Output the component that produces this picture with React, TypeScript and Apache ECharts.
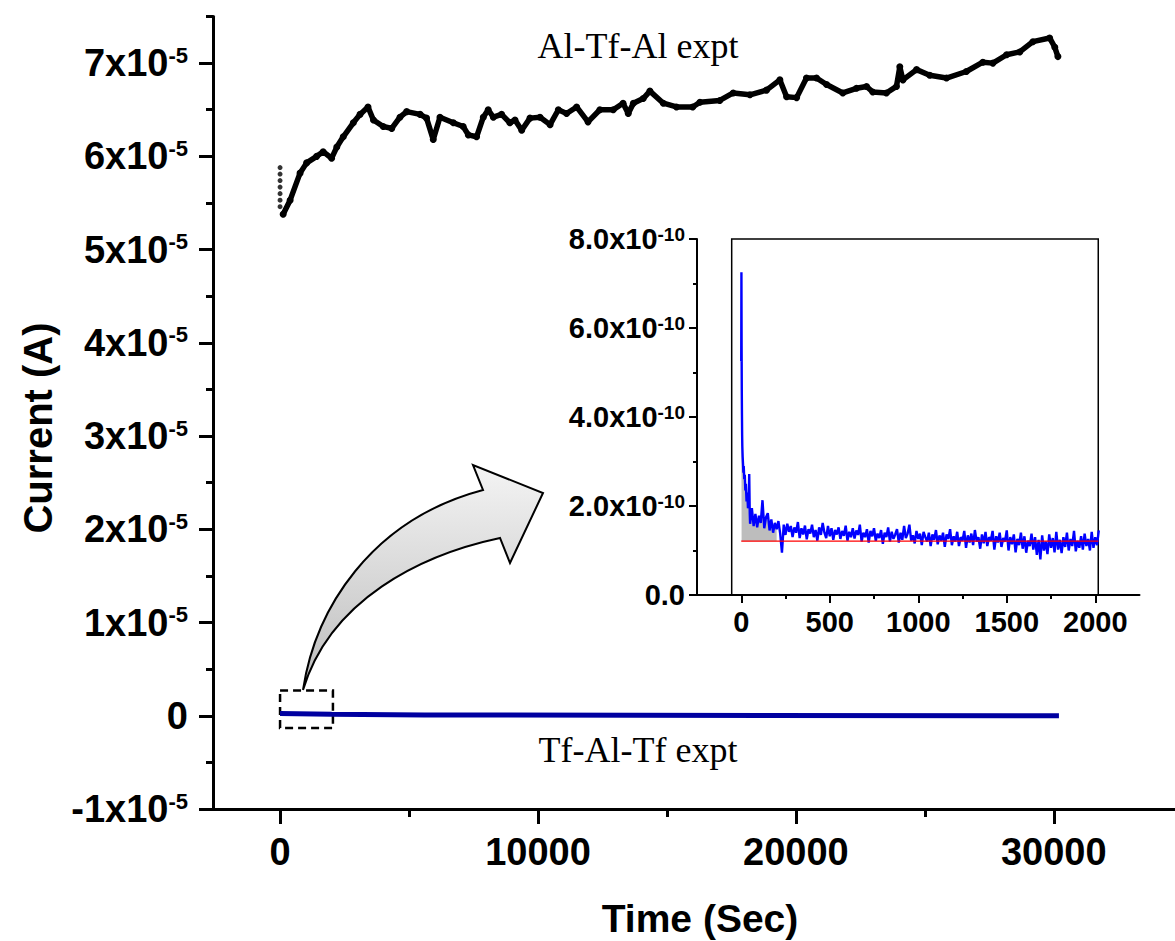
import React, { useEffect, useRef } from 'react';
import * as echarts from 'echarts';

// ---------- Main plot data (current in units of 1e-5 A, time in s) ----------
const alTfAlTime = [120, 390, 775, 1030, 1420, 1670, 2000, 2200, 2450, 2840, 3100, 3410, 3620, 4000, 4330, 4650, 4910, 5430, 5680, 5940, 6200, 6720, 7100, 7300, 7620, 7880, 8070, 8270, 8590, 8910, 9110, 9370, 9690, 10080, 10470, 10790, 11110, 11500, 11940, 12400, 12920, 13300, 13500, 13700, 14080, 14340, 14860, 15370, 16000, 16280, 17050, 17570, 18220, 18860, 19380, 19640, 20030, 20410, 20800, 21190, 21820, 22350, 22740, 22980, 23510, 23900, 24030, 24150, 24680, 25190, 25840, 26610, 27250, 27640, 28170, 28680, 29190, 29840, 30040, 30160];
const alTfAlCurrent = [5.38, 5.53, 5.82, 5.93, 6.0, 6.05, 5.98, 6.1, 6.21, 6.36, 6.45, 6.53, 6.39, 6.32, 6.30, 6.42, 6.48, 6.45, 6.41, 6.18, 6.42, 6.36, 6.32, 6.23, 6.21, 6.42, 6.50, 6.42, 6.45, 6.36, 6.39, 6.28, 6.41, 6.42, 6.34, 6.50, 6.46, 6.53, 6.37, 6.50, 6.50, 6.57, 6.46, 6.57, 6.62, 6.70, 6.57, 6.53, 6.53, 6.58, 6.60, 6.68, 6.66, 6.71, 6.82, 6.64, 6.63, 6.84, 6.84, 6.77, 6.68, 6.73, 6.75, 6.69, 6.68, 6.75, 6.96, 6.82, 6.93, 6.87, 6.84, 6.91, 7.01, 7.00, 7.09, 7.12, 7.23, 7.27, 7.17, 7.07];
// initial dotted drop at t = 0
const alTfAlStartCurrent = [5.88, 5.81, 5.74, 5.67, 5.60, 5.53, 5.46];

const tfAlTfTime = [0, 2000, 5600, 30200];
const tfAlTfCurrent = [0.025, 0.015, 0.008, 0.0];

const mainXTicks = [0, 10000, 20000, 30000];
const mainXMinor = [5000, 15000, 25000];
const mainYTicks = [-1, 0, 1, 2, 3, 4, 5, 6, 7];
const mainYMinor = [-0.5, 0.5, 1.5, 2.5, 3.5, 4.5, 5.5, 6.5, 7.5];

// ---------- Inset data (current in units of 1e-10 A, time in s) ----------
const insetEarlyTime = [0, 1, 2, 3, 4, 5, 6, 8, 10, 12, 14, 17, 20, 23, 26, 30, 34, 38, 42, 45, 48];
const insetEarlyCurrent = [5.25, 7.25, 5.6, 4.6, 4.05, 3.6, 3.35, 3.1, 2.95, 2.75, 2.9, 2.6, 2.7, 2.35, 2.5, 2.1, 2.3, 1.95, 2.05, 2.72, 1.85];
const insetSampleStart = 50;
const insetSampleStep = 10;
const insetSampledCurrent = [
  1.60, 1.95, 1.55, 1.82, 1.52, 1.78, 1.62, 2.13, 1.50, 1.75,
  1.84, 1.45, 1.70, 1.40, 1.62, 1.48, 1.66, 1.38, 0.95, 1.58,
  1.35, 1.60, 1.42, 1.55, 1.30, 1.52, 1.40, 1.64, 1.28, 1.50,
  1.36, 1.56, 1.25, 1.48, 1.38, 1.58, 1.30, 1.46, 1.22, 1.52,
  1.35, 1.62, 1.40, 1.28, 1.55, 1.32, 1.50, 1.24, 1.46, 1.36,
  1.52, 1.26, 1.44, 1.33, 1.56, 1.22, 1.42, 1.30, 1.50, 1.27,
  1.45, 1.35, 1.58, 1.20, 1.40, 1.30, 1.48, 1.18, 1.44, 1.32,
  1.50, 1.22, 1.38, 1.28, 1.46, 1.15, 1.40, 1.30, 1.52, 1.20,
  1.42, 1.26, 1.36, 1.48, 1.18, 1.40, 1.24, 1.55, 1.28, 1.38,
  1.58, 1.22, 1.34, 1.16, 1.44, 1.26, 1.38, 1.12, 1.42, 1.30,
  1.20, 1.40, 1.10, 1.36, 1.24, 1.46, 1.14, 1.34, 1.22, 1.40,
  1.08, 1.36, 1.26, 1.48, 1.12, 1.32, 1.20, 1.42, 1.10, 1.30,
  1.22, 1.44, 1.06, 1.34, 1.18, 1.38, 1.12, 1.46, 1.20, 1.30,
  1.04, 1.36, 1.16, 1.42, 1.10, 1.30, 1.22, 1.44, 1.02, 1.32,
  1.18, 1.40, 1.08, 1.28, 1.20, 1.45, 1.00, 1.30, 1.14, 1.36,
  0.96, 1.26, 1.12, 1.40, 1.04, 1.32, 0.95, 1.22, 1.10, 1.38,
  1.02, 1.30, 0.90, 1.24, 0.80, 1.34, 1.00, 1.20, 0.92, 1.36,
  1.06, 1.28, 0.96, 1.42, 1.02, 1.24, 0.94, 1.30, 1.08, 1.40,
  1.00, 1.26, 1.10, 1.44, 0.98, 1.22, 1.06, 1.32, 1.02, 1.38,
  1.10, 1.26, 1.00, 1.42, 1.06, 1.30, 1.12, 1.45,
];
const insetBaseline = 1.21;
const insetBaselineEnd = 2017;
const insetAreaEnd = 200;

const insetXTicks = [0, 500, 1000, 1500, 2000];
const insetXMinor = [250, 750, 1250, 1750];
const insetYTicks = [0, 2, 4, 6, 8];
const insetYMinor = [1, 3, 5, 7];

const ARROW_D =
  'M303 690 C315 610 370 520 483 490 L473 465 L543 493 L510 563 L500 538 C420 555 330 600 303 690 Z';
let arrowRegistered = false;
function ensureArrow() {
  if (!arrowRegistered) {
    echarts.graphic.registerShape('zoomArrow', echarts.graphic.extendPath(ARROW_D, {}) as any);
    arrowRegistered = true;
  }
}

const SANS = '"Liberation Sans", Arial, sans-serif';
const SERIF = '"Liberation Serif", "Times New Roman", serif';

export default function App() {
  const ref = useRef<HTMLDivElement>(null);

  useEffect(() => {
    if (!ref.current) return;
    ensureArrow();
    const chart = echarts.init(ref.current, null, { renderer: 'svg' });

    const alData = alTfAlTime.map((t, i) => [t, alTfAlCurrent[i]]);
    const alStart = alTfAlStartCurrent.map((v) => [0, v]);
    const tfData = tfAlTfTime.map((t, i) => [t, tfAlTfCurrent[i]]);
    const insetData: number[][] = insetEarlyTime.map((t, i) => [t, insetEarlyCurrent[i]]);
    insetSampledCurrent.forEach((v, i) => insetData.push([insetSampleStart + i * insetSampleStep, v]));
    const areaData = insetData.filter((p) => p[0] <= insetAreaEnd);

    const plainNumber = (v: number) => String(Math.round(v));
    const tickLabelMain = (v: number) => {
      const r = Math.round(v);
      return r === 0 ? '{m|0}' : `{m|${r}x10}{s|-5}`;
    };
    const tickLabelInset = (v: number) => {
      const r = Math.round(v);
      return r === 0 ? '{m|0.0}' : `{m|${r.toFixed(1)}x10}{s|-10}`;
    };

    const axisBase = (w: number) => ({
      type: 'value' as const,
      axisLine: { show: true, onZero: false, lineStyle: { color: '#000', width: w } },
      splitLine: { show: false },
    });

    const option: any = {
      animation: false,
      backgroundColor: '#fff',
      grid: [
        { left: 213, top: 16.5, width: 962, height: 792.5 },
        { left: 697, top: 239, width: 442.5, height: 356 },
      ],
      xAxis: [
        {
          ...axisBase(3),
          gridIndex: 0,
          position: 'bottom',
          min: -2600,
          max: 34700,
          axisTick: { show: true, customValues: mainXTicks, length: 15, lineStyle: { color: '#000', width: 3 } },
          axisLabel: {
            customValues: mainXTicks,
            formatter: plainNumber,
            color: '#000',
            fontSize: 38,
            fontWeight: 'bold',
            fontFamily: SANS,
            margin: 24,
          },
        },
        {
          ...axisBase(3),
          gridIndex: 0,
          position: 'bottom',
          min: -2600,
          max: 34700,
          axisLine: { show: false, onZero: false },
          axisTick: { show: true, customValues: mainXMinor, length: 8, lineStyle: { color: '#000', width: 3 } },
          axisLabel: { show: false },
        },
        {
          ...axisBase(2),
          gridIndex: 1,
          position: 'bottom',
          min: -250,
          max: 2250,
          axisTick: { show: true, customValues: insetXTicks, length: 8, lineStyle: { color: '#000', width: 2 } },
          axisLabel: {
            customValues: insetXTicks,
            formatter: plainNumber,
            color: '#000',
            fontSize: 29,
            fontWeight: 'bold',
            fontFamily: SANS,
            margin: 12,
          },
        },
        {
          ...axisBase(2),
          gridIndex: 1,
          position: 'bottom',
          min: -250,
          max: 2250,
          axisLine: { show: false, onZero: false },
          axisTick: { show: true, customValues: insetXMinor, length: 4, lineStyle: { color: '#000', width: 2 } },
          axisLabel: { show: false },
        },
      ],
      yAxis: [
        {
          ...axisBase(3),
          gridIndex: 0,
          position: 'left',
          min: -1,
          max: 7.5,
          axisTick: { show: true, customValues: mainYTicks, length: 14, lineStyle: { color: '#000', width: 3 } },
          axisLabel: {
            customValues: mainYTicks,
            formatter: tickLabelMain,
            margin: 25,
            rich: {
              m: { fontSize: 38, fontWeight: 'bold', fontFamily: SANS, color: '#000', lineHeight: 38 },
              s: { fontSize: 22, fontWeight: 'bold', fontFamily: SANS, color: '#000', lineHeight: 19, verticalAlign: 'top' },
            },
          },
        },
        {
          ...axisBase(3),
          gridIndex: 0,
          position: 'left',
          min: -1,
          max: 7.5,
          axisLine: { show: false, onZero: false },
          axisTick: { show: true, customValues: mainYMinor, length: 7, lineStyle: { color: '#000', width: 3 } },
          axisLabel: { show: false },
        },
        {
          ...axisBase(2),
          gridIndex: 1,
          position: 'left',
          min: 0,
          max: 8,
          axisTick: { show: true, customValues: insetYTicks, length: 8, lineStyle: { color: '#000', width: 2 } },
          axisLabel: {
            customValues: insetYTicks,
            formatter: tickLabelInset,
            margin: 12,
            rich: {
              m: { fontSize: 29, fontWeight: 'bold', fontFamily: SANS, color: '#000', lineHeight: 29 },
              s: { fontSize: 19, fontWeight: 'bold', fontFamily: SANS, color: '#000', lineHeight: 10, verticalAlign: 'top' },
            },
          },
        },
        {
          ...axisBase(2),
          gridIndex: 1,
          position: 'left',
          min: 0,
          max: 8,
          axisLine: { show: false, onZero: false },
          axisTick: { show: true, customValues: insetYMinor, length: 4, lineStyle: { color: '#000', width: 2 } },
          axisLabel: { show: false },
        },
      ],
      series: [
        {
          name: 'Al-Tf-Al expt',
          type: 'line',
          xAxisIndex: 0,
          yAxisIndex: 0,
          data: alData,
          showSymbol: true,
          symbol: 'circle',
          symbolSize: 7,
          itemStyle: { color: '#000' },
          lineStyle: { color: '#000', width: 5.5 },
          z: 3,
        },
        {
          name: 'Al-Tf-Al start',
          type: 'scatter',
          xAxisIndex: 0,
          yAxisIndex: 0,
          data: alStart,
          symbol: 'circle',
          symbolSize: 5,
          itemStyle: { color: '#000' },
        },
        {
          name: 'Tf-Al-Tf expt',
          type: 'line',
          xAxisIndex: 0,
          yAxisIndex: 0,
          data: tfData,
          showSymbol: false,
          lineStyle: { color: '#0000a0', width: 5 },
          itemStyle: { color: '#0000a0' },
          markArea: {
            silent: true,
            label: { show: false },
            itemStyle: { color: 'rgba(0,0,0,0)', borderColor: '#000', borderWidth: 2.5, borderType: [8, 5] },
            data: [[{ coord: [0, 0.27] }, { coord: [2050, -0.13] }]],
          },
        },
        {
          name: 'inset area',
          type: 'line',
          xAxisIndex: 2,
          yAxisIndex: 2,
          data: areaData,
          showSymbol: false,
          lineStyle: { width: 0, opacity: 0 },
          areaStyle: { color: '#bdbdbd', opacity: 1, origin: insetBaseline },
          z: 1,
        },
        {
          name: 'inset current',
          type: 'line',
          xAxisIndex: 2,
          yAxisIndex: 2,
          data: insetData,
          showSymbol: false,
          lineStyle: { color: '#0000ff', width: 2.4 },
          itemStyle: { color: '#0000ff' },
          z: 2,
        },
        {
          name: 'inset baseline',
          type: 'line',
          xAxisIndex: 2,
          yAxisIndex: 2,
          data: [[0, insetBaseline], [insetBaselineEnd, insetBaseline]],
          showSymbol: false,
          lineStyle: { color: '#ff0000', width: 1.3 },
          itemStyle: { color: '#ff0000' },
          z: 3,
          markArea: {
            silent: true,
            label: { show: false },
            itemStyle: { color: 'rgba(0,0,0,0)', borderColor: '#000', borderWidth: 1.5 },
            data: [[{ coord: [-54, 8] }, { coord: [insetBaselineEnd, 0] }]],
          },
        },
      ],
      graphic: [
        {
          type: 'zoomArrow',
          x: 0,
          y: 0,
          z: 10,
          style: {
            fill: new echarts.graphic.LinearGradient(0, 0, 0, 1, [
              { offset: 0, color: '#f4f4f4' },
              { offset: 1, color: '#bcbcbc' },
            ]),
            stroke: '#000',
            lineWidth: 2,
          },
        },
        {
          type: 'text',
          x: 638,
          y: 46,
          style: { text: 'Al-Tf-Al expt', fontSize: 36, fontFamily: SERIF, fill: '#000', align: 'center', verticalAlign: 'middle' },
        },
        {
          type: 'text',
          x: 638,
          y: 750,
          style: { text: 'Tf-Al-Tf expt', fontSize: 36, fontFamily: SERIF, fill: '#000', align: 'center', verticalAlign: 'middle' },
        },
        {
          type: 'text',
          x: 700,
          y: 918,
          style: { text: 'Time (Sec)', fontSize: 39, fontWeight: 'bold', fontFamily: SANS, fill: '#000', align: 'center', verticalAlign: 'middle' },
        },
        {
          type: 'text',
          x: 38,
          y: 428,
          rotation: Math.PI / 2,
          style: { text: 'Current (A)', fontSize: 40, fontWeight: 'bold', fontFamily: SANS, fill: '#000', align: 'center', verticalAlign: 'middle' },
        },
      ],
    };

    chart.setOption(option);
    return () => chart.dispose();
  }, []);

  return (
    <div
      ref={ref}
      style={{ position: 'fixed', left: 0, top: 0, width: 1175, height: 941, background: '#fff' }}
    />
  );
}
